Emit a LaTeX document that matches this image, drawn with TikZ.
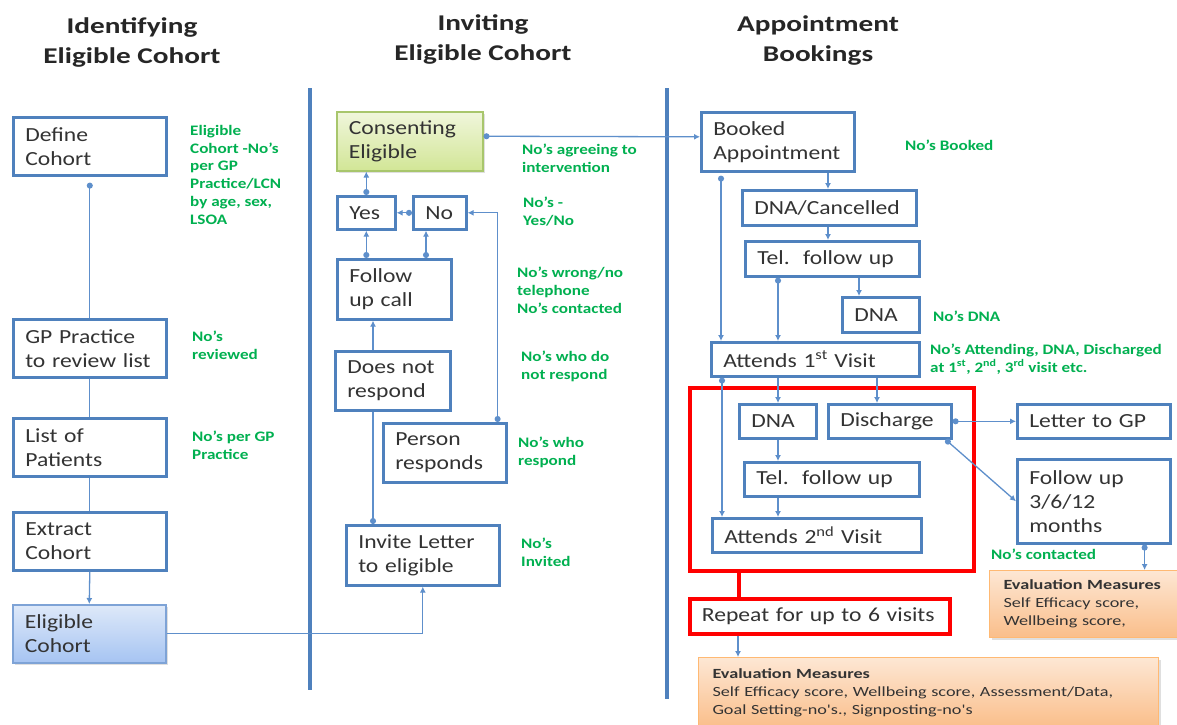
\documentclass[tikz,border=0pt]{standalone}
\usepackage{fontspec}
\setmainfont{Carlito}[FakeStretch=1.18]
\newfontfamily\titlefont{Carlito}[FakeStretch=1.3]
\newfontfamily\evalfont{Carlito}[FakeStretch=1.3]
\usetikzlibrary{arrows.meta,calc,shadows}
\definecolor{boxblue}{HTML}{4F81BD}
\definecolor{lineblue}{HTML}{5E8FCB}
\definecolor{grn}{HTML}{00B050}
\definecolor{txt}{HTML}{333333}
\newcommand\myboxfs{\fontsize{20}{24}\selectfont}
\newcommand\mygrfs{\fontsize{14.5}{17.7}\selectfont\bfseries}
\newcommand\mytitfs{\fontsize{22.5}{30}\selectfont\bfseries}
\newcommand\myevfs{\fontsize{14}{18}\selectfont}
\tikzset{
  bx/.style={draw=boxblue, line width=2.6pt, fill=white, inner xsep=12pt, inner ysep=0pt,
    align=left, anchor=north west, font=\myboxfs, text=txt},
  redframe/.style={draw=red, line width=3.8pt, anchor=north west, inner sep=0pt},
  grlab/.style={anchor=base west, align=left, font=\mygrfs, text=grn, inner sep=0pt},
  ttl/.style={align=center, font=\titlefont\mytitfs, text=black!85},
  evbox/.style={draw=orange!55, line width=1pt, top color={rgb,255:red,253;green,231;blue,212},
    bottom color={rgb,255:red,250;green,190;blue,138}, anchor=north west, inner xsep=14pt,
    inner ysep=0pt, align=left, font=\evalfont\myevfs, text=txt,
    drop shadow={opacity=0.25, shadow xshift=2pt, shadow yshift=-2pt}},
  conn/.style={draw=lineblue, line width=1.3pt},
  arr/.style={conn, -{Latex[length=6pt,width=6pt]}},
  darr/.style={conn, {Circle[length=6pt]}-{Latex[length=6pt,width=6pt]}},
  dline/.style={conn, {Circle[length=6pt]}-},
  divider/.style={draw=boxblue, line width=4pt},
}
\begin{document}
\begin{tikzpicture}[x=1pt,y=-1pt]
\useasboundingbox (0,0) rectangle (1177,724);
\fill[white] (0,0) rectangle (1177,724);

% titles
\node[ttl] (t1) at (132,42) {Identifying\\Eligible Cohort};
\node[ttl] (t2) at (483,39) {Inviting\\Eligible Cohort};
\node[ttl] (t3) at (818,41) {Appointment\\Bookings};

% dividers
\coordinate (dv1a) at (310,88); \coordinate (dv1b) at (310,690);
\coordinate (dv2a) at (667,88); \coordinate (dv2b) at (667,699);
\draw[divider] (dv1a) -- (dv1b);
\draw[divider] (dv2a) -- (dv2b);

% left column
\node[bx, text width=129pt, minimum height=58pt] (def) at (12,116) {Define\\Cohort};
\node[bx, text width=129pt, minimum height=58pt] (gp) at (12,318) {GP~Practice\\to~review~list};
\node[bx, text width=129pt, minimum height=58pt] (lst) at (12,417) {List~of\\Patients};
\node[bx, text width=129pt, minimum height=58pt] (ext) at (12,511) {Extract\\Cohort};
\node[bx, text width=129pt, minimum height=58pt, draw={rgb,255:red,126;green,163;blue,214}, line width=1.5pt,
  top color={rgb,255:red,222;green,233;blue,249}, bottom color={rgb,255:red,166;green,196;blue,242},
  drop shadow={opacity=0.25, shadow xshift=2pt, shadow yshift=-2pt}] (elig) at (12,604) {Eligible\\Cohort};

% green labels: anchor at baseline of the last line
\node[grlab] (g1) at (190,224) {Eligible\\Cohort -No's\\per GP\\Practice/LCN\\by age, sex,\\LSOA};
\node[grlab] (g2) at (192,359) {No's\\reviewed};
\node[grlab] (g3) at (192,459) {No's per GP\\Practice};

% middle column
\node[bx, text width=122pt, minimum height=59pt, draw={rgb,255:red,168;green,198;blue,108}, line width=1.5pt,
  top color={rgb,255:red,240;green,246;blue,220}, bottom color={rgb,255:red,210;green,230;blue,150},
  drop shadow={opacity=0.25, shadow xshift=2pt, shadow yshift=-2pt}] (cons) at (336,111) {Consenting\\Eligible};
\node[bx, text width=34pt, minimum height=33pt] (yes) at (336,195) {Yes};
\node[bx, text width=29pt, minimum height=33pt] (no) at (412,195) {No};
\node[bx, text width=90pt, minimum height=60pt] (fu) at (336,258) {Follow\\up~call};
\node[bx, text width=91pt, minimum height=59pt] (dnr) at (334,350) {Does~not\\respond};
\node[bx, text width=99pt, minimum height=59pt] (pr) at (382,422) {Person\\responds};
\node[bx, text width=129pt, minimum height=60pt] (inv) at (345,524) {Invite~Letter\\to~eligible};

\node[grlab] (g4) at (522,172) {No's agreeing to\\intervention};
\node[grlab] (g5) at (523,225) {No's -\\Yes/No};
\node[grlab] (g6) at (517,313) {No's wrong/no\\telephone\\No's contacted};
\node[grlab] (g7) at (521,379) {No's who do\\not respond};
\node[grlab] (g8) at (518,465) {No's who\\respond};
\node[grlab] (g9) at (521,566) {No's\\Invited};

% right column
\node[redframe, minimum width=284pt, minimum height=183pt] (rb) at (688,386) {};
\node[bx, text width=129pt, minimum height=59pt] (bk) at (700,111) {Booked\\Appointment};
\node[bx, text width=150pt, minimum height=35pt] (dnac) at (741,189) {DNA/Cancelled};
\node[bx, text width=150pt, minimum height=35pt] (tel1) at (744,240) {Tel.~~follow~up};
\node[bx, text width=53pt, minimum height=35pt] (dna1) at (841,296) {DNA};
\node[bx, text width=184pt, minimum height=34pt] (att1) at (710,341) {Attends~1\textsuperscript{st}~Visit};
\node[bx, text width=53pt, minimum height=34pt] (dna2) at (738,403) {DNA};
\node[bx, text width=99pt, minimum height=34pt] (dis) at (827,403) {Discharge};
\node[bx, text width=151pt, minimum height=34pt] (tel2) at (743,461) {Tel.~~follow~up};
\node[bx, text width=185pt, minimum height=34pt] (att2) at (711,517) {Attends~2\textsuperscript{nd}~Visit};
\node[bx, draw=red, line width=3.8pt, text width=236pt, minimum height=35pt] (rep) at (688,597) {Repeat~for~up~to~6~visits};
\node[bx, text width=129pt, minimum height=34pt] (ltr) at (1016,403) {Letter~to~GP};
\node[bx, text width=129pt, minimum height=84pt] (fu2) at (1016,458) {Follow~up\\3/6/12\\months};
\node[evbox, text width=167pt, minimum height=67pt] (ev1) at (989,570)
  {\textbf{Evaluation Measures}\\Self Efficacy score,\\Wellbeing score,};
\node[evbox, text width=432pt, minimum height=70pt] (ev2) at (698,657)
  {\textbf{Evaluation Measures}\\Self Efficacy score, Wellbeing score, Assessment/Data,\\Goal Setting-no's., Signposting-no's};

\node[grlab] (g10) at (905,150) {No's Booked};
\node[grlab] (g11) at (933,321) {No's DNA};
\node[grlab] (g12) at (930,372) {No's Attending, DNA, Discharged\\at 1\textsuperscript{st}, 2\textsuperscript{nd}, 3\textsuperscript{rd} visit etc.};
\node[grlab] (g13) at (991,559) {No's contacted};

% connectors: left column
\draw[dline, shorten <=6pt] (def.south) -- (gp.north);
\draw[conn] (gp.south) -- (lst.north);
\draw[conn] (lst.south) -- (ext.north);
\draw[arr] (ext.south) -- (elig.north);
\draw[arr] (elig.east) -| (inv.south);

% connectors: middle column
\draw[darr] (yes.north) -- (yes.north |- cons.south);
\draw[darr] (no.west) -- (yes.east);
\draw[darr] (yes.south |- fu.north) -- (yes.south);
\coordinate (N1) at ($(no.south west)+(14,0)$);
\draw[darr] (N1 |- fu.north) -- (N1);
\coordinate (P1) at ($(pr.north east)+(-10,0)$);
\draw[darr] (P1) |- (no.east);
\coordinate (D1) at ($(dnr.north west)+(39,0)$);
\draw[arr] (D1) -- (D1 |- fu.south);
\draw[dline] (D1 |- inv.north) -- (D1 |- dnr.south);
\draw[darr] ($(cons.east)+(0,-5)$) -- ($(bk.west)+(0,-5)$);

% connectors: right column
\coordinate (B1) at ($(bk.south west)+(21,0)$);
\draw[darr, shorten <=3pt] (B1) -- (B1 |- att1.north);
\coordinate (B2) at ($(dnac.north west)+(87,0)$);
\draw[arr] (B2 |- bk.south) -- (B2);
\draw[arr] (B2 |- dnac.south) -- (B2 |- tel1.north);
\coordinate (T1) at ($(tel1.south west)+(34,0)$);
\draw[darr] (T1) -- (T1 |- att1.north);
\coordinate (T2) at ($(dna1.north west)+(18,0)$);
\draw[arr] (T2 |- tel1.south) -- (T2);
\coordinate (A1) at ($(att1.south west)+(12,0)$);
\draw[darr] (A1) -- (A1 |- att2.north);
\coordinate (A2) at ($(att1.south west)+(68,0)$);
\draw[arr] (A2) -- (A2 |- dna2.north);
\coordinate (A3) at ($(att1.south west)+(167,0)$);
\draw[arr] (A3) -- (A3 |- dis.north);
\coordinate (D2) at ($(dna2.south west)+(40,0)$);
\draw[arr] (D2) -- (D2 |- tel2.north);
\draw[arr] (D2 |- tel2.south) -- (D2 |- att2.north);
\draw[darr] (dis.east) -- (ltr.west);
\coordinate (DS) at ($(dis.south east)+(-7,0)$);
\draw[darr] (DS) -- (fu2.west);
\coordinate (F2) at ($(fu2.south east)+(-27,0)$);
\draw[darr] (F2) -- (F2 |- ev1.north);
\coordinate (R1) at ($(rep.south west)+(50,0)$);
\draw[arr] (R1) -- (R1 |- ev2.north);
\coordinate (RB1) at ($(rb.south west)+(51,0)$);
\draw[draw=red, line width=3.8pt] (RB1) -- (RB1 |- rep.north);
\end{tikzpicture}
\end{document}
